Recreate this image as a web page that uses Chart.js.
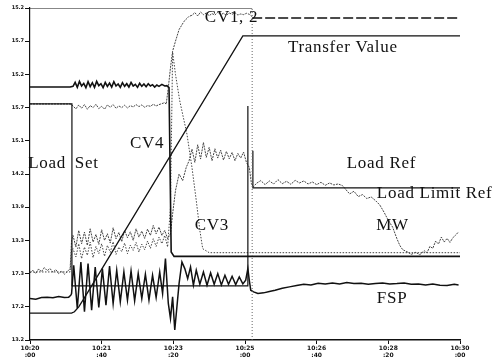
<!DOCTYPE html>
<html>
<head>
<meta charset="utf-8">
<script src="https://cdn.jsdelivr.net/npm/chart.js@4"></script>
<style>
  html, body { margin: 0; padding: 0; background: #fff; }
</style>
</head>
<body>
<canvas id="chart" width="496" height="364"></canvas>
<script>
// time axis (s) and the scanned tick labels (barely legible in the source)
const X_LABELS = [['10:20', ':00'], ['10:21', ':40'], ['10:23', ':20'], ['10:25', ':00'], ['10:26', ':40'], ['10:28', ':20'], ['10:30', ':00']];
const Y_LABELS = ['13.2', '17.2', '17.3', '13.3', '13.9', '14.2', '15.1', '15.7', '15.2', '15.7', '15.2']; // bottom -> top

const FRAME_TOP = [[0, 100], [310, 100]];
const MARKER    = [[310, 0], [310, 100]];

const TRANSFER_VALUE = [[0, 8.1], [58, 8.1], [62, 8.5], [68, 10], [75, 12.4], [297, 91.6], [600, 91.6]];
const LOAD_SET       = [[0, 71.1], [58.5, 71.1], [58.5, 16.3], [304, 16.3], [304, 70.5]];
const LOAD_REF       = [[311, 57], [311, 45.8], [600, 45.8]];

const CV4 = [[0, 76.2], [56, 76.2],
    [60, 76.4], [63, 77.6], [66, 76.1], [69, 77.9], [72, 76.5], [75, 77.3], [78, 76.0], [81, 77.8],
    [84, 76.3], [87, 77.5], [90, 76.1], [93, 77.9], [96, 76.6], [99, 77.2], [102, 76.0], [105, 77.6],
    [108, 76.4], [111, 77.4], [114, 76.2], [117, 77.8], [120, 76.5], [123, 77.1], [126, 76.1], [129, 77.5],
    [132, 76.4], [135, 77.2], [138, 76.2], [141, 77.6], [144, 76.5], [147, 77.0], [150, 76.1], [153, 77.3],
    [156, 76.4], [159, 77.1], [162, 76.3], [165, 77.2], [168, 76.5], [171, 76.9], [174, 76.2], [177, 76.8],
    [180, 76.4], [184, 77.0], [188, 76.5], [191, 76.6], [194, 76.0], [197, 26.5], [201, 25.2], [600, 25.2]];

const CV12 = [[0, 71.1], [56, 71.1],
    [60, 70.5], [64, 69.6], [68, 70.8], [72, 69.8], [76, 70.9], [80, 69.5], [84, 70.6], [88, 70.0],
    [92, 71.0], [96, 69.7], [100, 70.4], [104, 69.5], [108, 70.8], [112, 70.1], [116, 70.9], [120, 69.8],
    [124, 70.5], [128, 70.0], [132, 70.7], [136, 69.9], [140, 70.6], [144, 70.2], [148, 70.9], [152, 70.3],
    [156, 70.8], [160, 70.1], [164, 70.6], [168, 70.4], [172, 71.0], [176, 70.5], [180, 70.9], [184, 71.2],
    [188, 71.5], [190, 71], [193, 76], [196, 82], [199, 87], [203, 90], [208, 93.5], [215, 96], [222, 97.5],
    [226, 97.8], [230, 98.6], [234, 97.6], [238, 98.8], [242, 98.0], [246, 98.5], [250, 97.7], [254, 98.3],
    [258, 97.9], [262, 98.7], [266, 98.0], [270, 98.4], [274, 97.8], [278, 98.5], [282, 98.1], [286, 98.6],
    [290, 97.9], [294, 98.2], [298, 98.0], [302, 98.4], [306, 98.1], [310, 97.4]];
const CV12_AFTER = [[310, 97], [600, 97]];

const CV3 = [[0, 20.5], [56, 20.5], [58, 27],
    [60, 27.5], [64, 25.0], [68, 29.0], [72, 24.5], [76, 28.0], [80, 25.5], [84, 29.5], [88, 24.8],
    [92, 28.2], [96, 26.0], [100, 29.0], [104, 25.2], [108, 28.5], [112, 26.4], [116, 29.6], [120, 25.8],
    [124, 28.0], [128, 26.6], [132, 29.2], [136, 26.0], [140, 28.6], [144, 27.0], [148, 29.4], [152, 26.5],
    [156, 28.9], [160, 27.2], [164, 29.8], [168, 27.6], [172, 30.5], [176, 28.2], [180, 31.0], [184, 29.0],
    [188, 31.5], [192, 28], [196, 40], [199, 86.7], [203, 80], [209, 72], [219, 62], [226, 52], [232, 42],
    [237, 33], [241, 27.5], [250, 26.3], [600, 26.3]];

const MW = [[0, 20.2], [4, 21.0], [8, 20.0], [12, 21.4], [16, 20.6], [20, 21.8], [24, 20.9], [28, 21.5],
    [32, 20.4], [36, 21.2], [40, 20.0], [44, 20.8], [48, 19.8], [52, 20.6], [56, 21.5], [58, 30],
    [60, 31.5], [64, 28.0], [68, 33.0], [72, 29.0], [76, 32.5], [80, 28.5], [84, 33.5], [88, 29.5],
    [92, 31.8], [96, 28.8], [100, 33.2], [104, 30.0], [108, 32.0], [112, 29.2], [116, 33.8], [120, 30.5],
    [124, 32.4], [128, 29.6], [132, 33.0], [136, 30.8], [140, 32.6], [144, 30.0], [148, 33.5], [152, 31.0],
    [156, 32.8], [160, 30.6], [164, 33.4], [168, 31.5], [172, 34.5], [176, 32.0], [180, 34.0], [184, 31.5],
    [188, 33.0], [192, 30.5], [196, 32], [199, 38], [203, 45], [208, 50], [213, 48], [218, 52],
    [222, 54], [226, 57.5], [230, 53.5], [234, 58.8], [238, 54.5], [242, 59.5], [246, 55], [250, 58],
    [254, 54], [258, 57.6], [262, 54.8], [266, 57.2], [270, 54.2], [274, 56.8], [278, 54.6], [282, 56.5],
    [286, 54.0], [290, 56.2], [294, 54.8], [298, 56.6], [302, 53.5], [306, 52], [309, 47], [312, 46.2],
    [316, 47.2], [322, 48.0], [328, 46.8], [334, 47.9], [340, 47.0], [346, 48.3], [352, 47.1], [358, 47.8],
    [364, 46.9], [370, 48.1], [376, 47.3], [382, 47.9], [388, 47.0], [394, 47.6], [400, 46.8], [406, 47.5],
    [412, 46.6], [418, 47.3], [424, 46.7], [430, 47.0], [436, 46.5], [440, 45.5], [446, 44.0], [452, 44.8],
    [458, 43.2], [464, 43.8], [470, 42.6], [476, 43.1], [482, 42.0], [488, 40.7], [494, 38.5], [500, 36.0],
    [506, 34.0], [512, 30.5], [516, 28.5], [520, 27.2], [526, 26.6], [532, 25.8], [538, 26.4], [544, 25.7],
    [550, 26.9], [554, 26.3], [558, 28.2], [562, 27.6], [566, 29.8], [570, 28.9], [574, 31.0], [578, 29.5],
    [582, 30.6], [586, 29.4], [590, 30.8], [594, 31.6], [598, 32.6]];

const FSP = [[0, 12.5], [8, 12.3], [16, 12.8], [24, 12.9], [32, 12.7], [40, 13.1], [48, 12.8], [54, 12.9], [57, 13.5],
    [58, 14], [61, 22.5], [66, 9.5], [71, 23.5], [76, 8.5], [81, 23.0], [86, 9.0], [91, 22.0], [96, 9.8],
    [101, 21.5], [106, 10.5], [111, 22.3], [116, 11.0], [121, 21.0], [126, 11.5], [131, 20.5], [136, 12.0],
    [141, 20.8], [146, 11.8], [151, 20.0], [156, 12.5], [161, 19.8], [166, 12.0], [171, 19.5], [176, 12.8],
    [181, 20.5], [185, 14], [189, 24.5], [193, 11], [196, 6.5], [199, 13], [202, 3.0], [205, 10], [208, 17],
    [212, 23.5], [216, 21.5], [220, 18.5], [224, 22], [228, 16.5], [232, 21], [237, 16.8], [242, 20.5],
    [247, 16.5], [252, 20.2], [257, 16.8], [262, 20], [267, 16.6], [272, 19.5], [277, 16.8], [282, 19.2],
    [287, 16.7], [292, 19.0], [297, 16.9], [301, 18], [304, 21.5], [306, 18], [308, 15], [312, 14.5],
    [318, 14.0], [326, 14.2], [334, 14.6], [342, 15.0], [352, 15.6], [362, 16.0], [372, 16.4], [382, 16.8],
    [392, 16.6], [402, 17.1], [412, 16.9], [422, 17.2], [432, 16.9], [442, 17.3], [452, 17.0], [462, 17.1],
    [472, 16.8], [482, 17.0], [492, 17.2], [502, 16.9], [512, 17.0], [522, 17.2], [532, 16.8], [542, 16.9],
    [552, 16.6], [562, 16.9], [572, 16.5], [582, 16.4], [592, 16.8], [598, 16.6]];

// trace names written on the chart, placed in data units (left edge, baseline)
const NOTES = [
    { text: 'CV1, 2',         x: 244,   y: 95.8 },
    { text: 'Transfer Value', x: 360,   y: 86.7 },
    { text: 'CV4',            x: 139.5, y: 57.8 },
    { text: 'Load',           x: -2.5,  y: 51.8 },
    { text: 'Set',            x: 62.5,  y: 51.8 },
    { text: 'Load Ref',       x: 442,   y: 51.8 },
    { text: 'Load Limit Ref', x: 484,   y: 42.8 },
    { text: 'CV3',            x: 230,   y: 33.1 },
    { text: 'MW',             x: 483,   y: 33.1 },
    { text: 'FSP',            x: 484,   y: 11.1 },
];

const INK = '#111';
const GREY = '#444';

function trace(label, pts, width, dash, color) {
    return {
        label,
        data: pts.map(([x, y]) => ({ x, y })),
        borderColor: color || INK,
        borderWidth: width,
        borderDash: dash || [],
        pointRadius: 0,
        tension: 0,
        fill: false,
    };
}

const notesPlugin = {
    id: 'notes',
    afterDraw(chart) {
        const { ctx, scales: { x, y } } = chart;
        ctx.save();
        ctx.font = '17px "Liberation Serif", "DejaVu Serif", serif';
        ctx.letterSpacing = '0.7px';
        ctx.fillStyle = INK;
        ctx.textBaseline = 'alphabetic';
        NOTES.forEach(n => ctx.fillText(n.text, x.getPixelForValue(n.x), y.getPixelForValue(n.y)));
        ctx.restore();
    },
};

new Chart(document.getElementById('chart'), {
    type: 'line',
    data: {
        datasets: [
            trace('frame', FRAME_TOP, 1.2),
            trace('marker', MARKER, 1, [1, 2], '#666'),
            trace('Transfer Value', TRANSFER_VALUE, 1.3),
            trace('Load Set', LOAD_SET, 1.2),
            trace('Load Ref', LOAD_REF, 1.2),
            trace('CV4', CV4, 1.6),
            trace('CV1, 2', CV12, 1, [2, 1], GREY),
            trace('CV1, 2 after', CV12_AFTER, 1.5, [10, 3], INK),
            trace('CV3', CV3, 1, [1.5, 1.5], GREY),
            trace('MW', MW, 1, [2, 1], GREY),
            trace('FSP', FSP, 1.5),
        ],
    },
    options: {
        responsive: false,
        devicePixelRatio: 1,
        animation: false,
        layout: { padding: { left: 0, right: 36, top: 8, bottom: 0 } },
        plugins: { legend: { display: false }, tooltip: { enabled: false } },
        scales: {
            x: {
                type: 'linear', min: 0, max: 600,
                afterFit: s => { s.height = 24; },
                border: { display: true, color: INK, width: 1.5, dash: [2, 1] },
                grid: { drawOnChartArea: false, tickLength: 4, color: INK },
                ticks: {
                    stepSize: 100, maxRotation: 0, padding: 1, color: INK,
                    font: { size: 6, weight: 'bold', family: 'DejaVu Sans' },
                    callback: v => X_LABELS[Math.round(v / 100)],
                },
            },
            y: {
                min: 0, max: 100,
                afterFit: s => { s.width = 30; },
                border: { display: true, color: INK, width: 1.2, dash: [2, 1] },
                grid: { drawOnChartArea: false, tickLength: 5, color: INK },
                ticks: {
                    stepSize: 10, padding: 1, color: INK,
                    font: { size: 5, weight: 'bold', family: 'DejaVu Sans' },
                    callback: v => Y_LABELS[Math.round(v / 10)],
                },
            },
        },
    },
    plugins: [notesPlugin],
});
</script>
</body>
</html>
